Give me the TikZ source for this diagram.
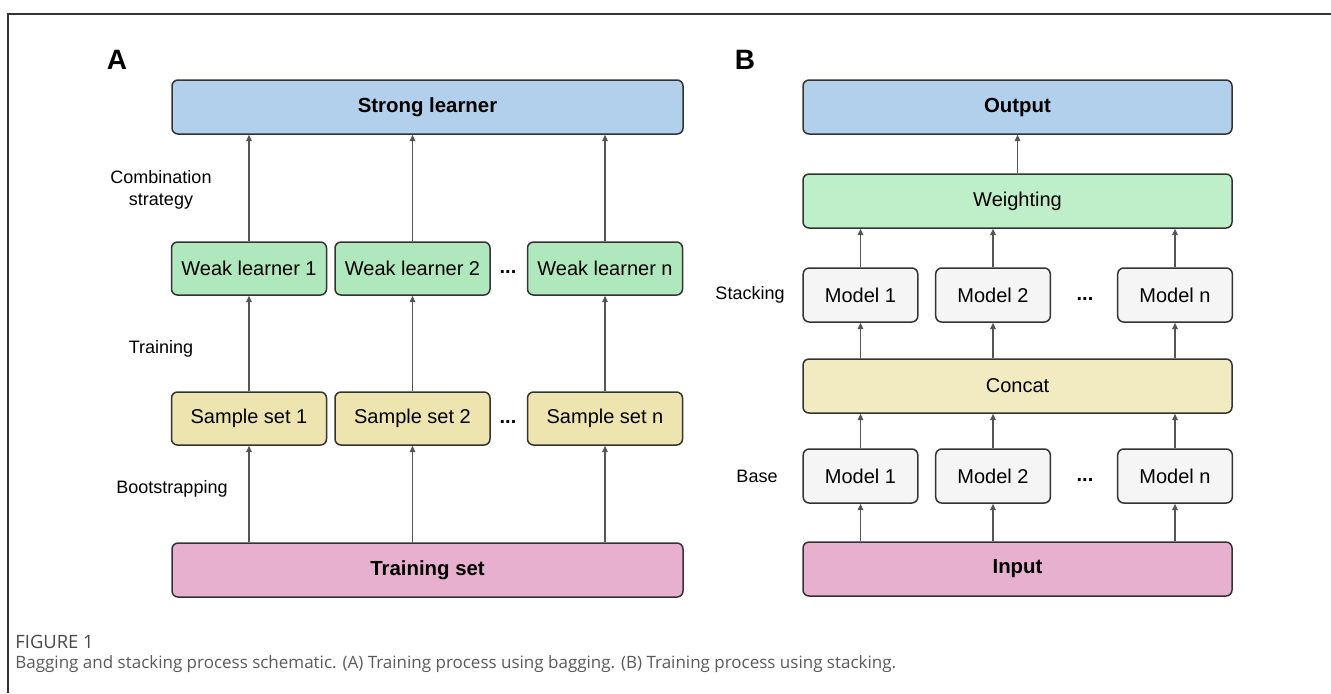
\documentclass[tikz,border=0pt]{standalone}
\usepackage{fontspec}
\setmainfont{Liberation Sans}
\newfontfamily\capfont{Open Sans}
\usetikzlibrary{arrows.meta}
\definecolor{boxline}{HTML}{333333}
\definecolor{arrgray}{HTML}{555555}
\definecolor{cblue}{HTML}{B2D0EB}
\definecolor{cgreen}{HTML}{B0E8BD}
\definecolor{cgreenl}{HTML}{BEEFC9}
\definecolor{cyellow}{HTML}{EEE4B0}
\definecolor{cyellowl}{HTML}{F2EAC0}
\definecolor{cpink}{HTML}{E8B0CF}
\definecolor{cgray}{HTML}{F5F5F5}
\definecolor{capgray}{HTML}{5A5A5A}
\begin{document}
\begin{tikzpicture}[x=0.5pt,y=-0.5pt,
  box/.style={draw=boxline, line width=0.75pt, rounded corners=3pt, inner sep=0pt,
    font=\fontsize{10}{12}\selectfont},
  bbox/.style={box, font=\fontsize{10.2}{12}\selectfont\bfseries},
  wideA/.style={minimum width=255.5pt, minimum height=27pt},
  wideB/.style={minimum width=214.5pt, minimum height=27pt},
  smallA/.style={minimum width=77.5pt, minimum height=26.5pt},
  smallB/.style={minimum width=57.3pt, minimum height=27pt},
  arr/.style={draw=arrgray, line width=0.75pt, -{Triangle[length=3.2pt,width=2.8pt]}},
  lbl/.style={font=\fontsize{9}{11}\selectfont, align=center, inner sep=0pt},
  dots/.style={font=\fontsize{10}{12}\selectfont\bfseries, inner sep=0pt},
  panel/.style={font=\fontsize{14}{16}\selectfont\bfseries, inner sep=0pt}]
\useasboundingbox (0,0) rectangle (1331,693);
% frame
\draw[draw=boxline, line width=0.9pt] (1331,14) -- (8,14) -- (8,693);
% ---------- Panel A ----------
\node[panel] (A) at (117,60) {A};
\node[bbox, wideA, fill=cblue] (strong) at (427.5,107) {Strong learner};
\node[box, smallA, fill=cgreen] (w1) at (249,268.5) {Weak learner 1};
\node[box, smallA, fill=cgreen] (w2) at (412.5,268.5) {Weak learner 2};
\node[box, smallA, fill=cgreen] (wn) at (605,268.5) {Weak learner n};
\node[dots] (wdots) at (508,272) {...};
\node[box, smallA, fill=cyellow] (s1) at (249,418.5) {Sample set 1};
\node[box, smallA, fill=cyellow] (s2) at (412.5,418.5) {Sample set 2};
\node[box, smallA, fill=cyellow] (sn) at (605,418.5) {Sample set n};
\node[dots] (sdots) at (508,422) {...};
\node[bbox, wideA, fill=cpink] (ts) at (427.5,570) {Training set};
\node[lbl] (comb) at (161,190) {Combination\\strategy};
\node[lbl] (train) at (161,349) {Training};
\node[lbl] (boot) at (172,489) {Bootstrapping};
\foreach \n in {s1,s2,sn} \draw[arr] (ts.north -| \n.south) -- (\n.south);
\foreach \a/\b in {s1/w1,s2/w2,sn/wn} \draw[arr] (\a.north) -- (\b.south);
\foreach \n in {w1,w2,wn} \draw[arr] (\n.north) -- (strong.south -| \n.north);
% ---------- Panel B ----------
\node[panel] (B) at (745,60) {B};
\node[bbox, wideB, fill=cblue] (out) at (1017.5,107) {Output};
\node[box, wideB, fill=cgreenl] (wt) at (1017.5,201) {Weighting};
\node[box, smallB, fill=cgray] (m1) at (860.5,295) {Model 1};
\node[box, smallB, fill=cgray] (m2) at (993,295) {Model 2};
\node[box, smallB, fill=cgray] (mn) at (1175,295) {Model n};
\node[dots] (mdots) at (1085,299) {...};
\node[box, wideB, fill=cyellowl] (cc) at (1017.5,386) {Concat};
\node[box, smallB, fill=cgray] (b1) at (860.5,476) {Model 1};
\node[box, smallB, fill=cgray] (b2) at (993,476) {Model 2};
\node[box, smallB, fill=cgray] (bn) at (1175,476) {Model n};
\node[dots] (bdots) at (1085,480) {...};
\node[bbox, wideB, fill=cpink] (inp) at (1017.5,569) {Input};
\node[lbl] (stk) at (750,295) {Stacking};
\node[lbl] (base) at (757,476) {Base};
\foreach \n in {b1,b2,bn} \draw[arr] (inp.north -| \n.south) -- (\n.south);
\foreach \n in {b1,b2,bn} \draw[arr] (\n.north) -- (cc.south -| \n.north);
\foreach \n in {m1,m2,mn} \draw[arr] (cc.north -| \n.south) -- (\n.south);
\foreach \n in {m1,m2,mn} \draw[arr] (\n.north) -- (wt.south -| \n.north);
\draw[arr] (wt.north) -- (out.south);
% ---------- Caption ----------
\node[anchor=west, inner sep=0pt, text=capgray!80!black, font=\capfont\fontsize{9.2}{10}\selectfont] (figlbl) at (15,642) {FIGURE 1};
\node[anchor=west, inner sep=0pt, text=capgray, font=\capfont\fontsize{8.5}{10}\selectfont] (cap) at (15,664)
 {Bagging and stacking process schematic. (A) Training process using bagging. (B) Training process using stacking.};
\end{tikzpicture}
\end{document}
